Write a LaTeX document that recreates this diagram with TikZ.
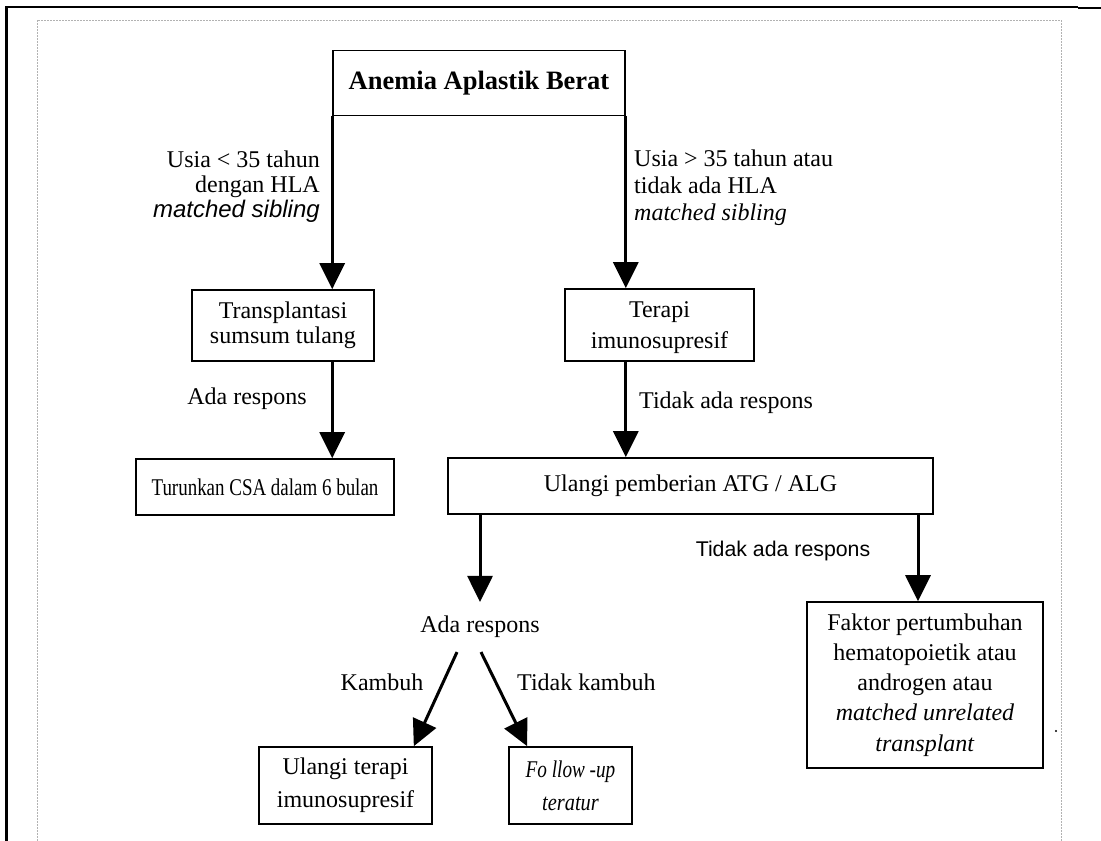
\documentclass[tikz,border=0pt]{standalone}
\usepackage{fontspec}
\usepackage{graphicx}
\setmainfont{Liberation Serif}
\setsansfont{Liberation Sans}
\usetikzlibrary{arrows.meta}
\begin{document}
\begin{tikzpicture}[x=1pt,y=-1pt,
  box/.style={draw, line width=1.6pt, align=center, inner sep=0pt, font=\fontsize{24}{30}\selectfont},
  arr/.style={line width=3pt, -{Triangle[width=25pt,length=26pt]}},
  lbl/.style={inner sep=0pt, font=\fontsize{24}{25}\selectfont},
  slbl/.style={inner sep=0pt, font=\sffamily\fontsize{21.3}{25}\selectfont},
  frame/.style={gray!60, line width=1pt, dash pattern=on 2pt off 1pt}]
\useasboundingbox (0,0) rectangle (1101,841);
% outer frame
\draw[line width=1.2pt] (5,7) -- (1078,7);
\draw[line width=2.2pt] (1078,8) -- (1101,8);
\draw[line width=3pt] (6,6) -- (6,841);
\draw[frame] (37,841) -- (37,20) -- (1061,20) -- (1061,841);
% boxes
\node[box, minimum width=292pt, minimum height=65pt, font=\bfseries\fontsize{26.5}{30}\selectfont] (main) at (479,83) {\raisebox{-3pt}{Anemia Aplastik Berat}};
\node[box, minimum width=182pt, minimum height=71pt, font=\fontsize{24}{25}\selectfont] (tss) at (283,325.5) {Transplantasi\\ sumsum tulang};
\node[box, minimum width=189pt, minimum height=72pt, font=\fontsize{24}{31}\selectfont] (terapi) at (659.5,325) {\rule{0pt}{22pt}Terapi\\ imunosupresif};
\node[box, minimum width=258pt, minimum height=56pt] (turun) at (265,487) {\scalebox{0.79}[1]{Turunkan CSA dalam 6 bulan}};
\node[box, minimum width=485pt, minimum height=56pt] (ulangi) at (690.5,486) {Ulangi pemberian ATG / ALG};
\node[box, minimum width=236pt, minimum height=166pt, font=\fontsize{24}{30.2}\selectfont] (faktor) at (925,685) {Faktor pertumbuhan\\ hematopoietik atau\\ androgen atau\\ \textit{matched unrelated}\\ \textit{transplant}};
\node[box, minimum width=173pt, minimum height=77pt, font=\fontsize{24}{33}\selectfont] (ulterapi) at (345.5,785.5) {Ulangi terapi\\ imunosupresif};
\node[box, minimum width=123pt, minimum height=77pt, font=\itshape\fontsize{24}{33}\selectfont] (follow) at (570.5,785.5) {\scalebox{0.8}[1]{Fo llow -up}\\ \scalebox{0.85}[1]{teratur}};
% labels
\node[lbl, anchor=east, align=right] (l1) at (320,187) {Usia < 35 tahun\\ dengan HLA\\ {\sffamily\itshape matched sibling}};
\node[lbl, anchor=west, align=left, font=\fontsize{24}{27}\selectfont] (l2) at (634,188) {Usia > 35 tahun atau\\ tidak ada HLA\\ \textit{matched sibling}};
\node[lbl] (l3) at (247,399) {Ada respons};
\node[lbl, anchor=west] (l4) at (639,403) {Tidak ada respons};
\node[slbl] (l5) at (783,551) {Tidak ada respons};
\node[lbl] (ada) at (480,627) {Ada respons};
\node[lbl] (l6) at (382,682) {Kambuh};
\node[lbl, anchor=west] (l7) at (517,682) {Tidak kambuh};
\coordinate (fk) at (918,0);
% arrows
\draw[arr] (main.south west) -- (main.south west |- tss.north);
\draw[arr] (main.south east) -- (main.south east |- terapi.north);
\draw[arr] (main.south west |- tss.south) -- (main.south west |- turun.north);
\draw[arr] (main.south east |- terapi.south) -- (main.south east |- ulangi.north);
\draw[arr] (ada.north |- ulangi.south) -- ([yshift=14pt]ada.north);
\draw[arr] (ulangi.south -| fk) -- (faktor.north -| fk);
\draw[arr] ([xshift=-23pt,yshift=-14pt]ada.south) -- ([xshift=-19pt]ulterapi.north east);
\draw[arr] ([xshift=1pt,yshift=-14pt]ada.south) -- ([xshift=19pt]follow.north west);
\fill (1056,731) circle (1.2pt);
\end{tikzpicture}
\end{document}
